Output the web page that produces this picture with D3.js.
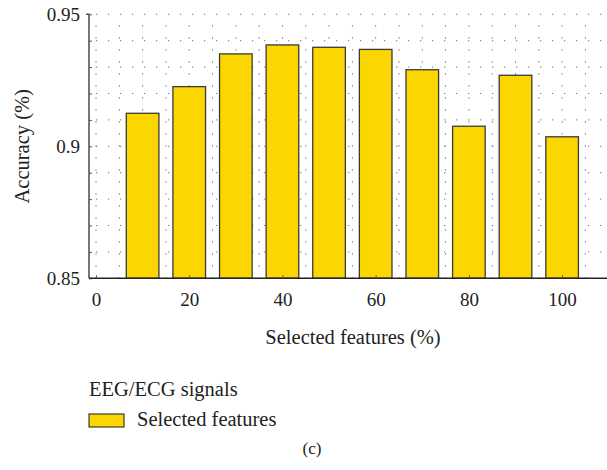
<!DOCTYPE html>
<html>
<head>
<meta charset="utf-8">
<script src="https://cdn.jsdelivr.net/npm/d3@7"></script>
<style>
  html, body { margin: 0; padding: 0; background: #fff; }
  svg { display: block; }
  text { font-family: "Liberation Serif", "DejaVu Serif", serif; fill: #222; }
</style>
</head>
<body>
<svg id="chart" width="607" height="470"></svg>
<script>
// Selected share of features (%) and resulting classification accuracy
const features = [10, 20, 30, 40, 50, 60, 70, 80, 90, 100];
const accuracy = [0.9125, 0.9226, 0.935, 0.9384, 0.9375, 0.9367, 0.929, 0.9076, 0.9269, 0.9036];
const xTickValues = [0, 20, 40, 60, 80, 100];
const yTickLabels = [0.85, 0.9, 0.95];
const seriesName = "Selected features";
const legendTitle = "EEG/ECG signals";

const svg = d3.select("#chart");

const plotL = 89, plotR = 612, plotT = 14.3, plotB = 278.3;
const x = d3.scaleLinear().domain([-1.5, 110.7]).range([plotL, plotR]);
const y = d3.scaleLinear().domain([0.85, 0.95]).range([plotB, plotT]);

svg.append("defs").append("clipPath").attr("id", "plot")
  .append("rect").attr("x", plotL).attr("y", plotT - 2)
  .attr("width", plotR - plotL).attr("height", plotB - plotT + 4);

const grid = svg.append("g").attr("clip-path", "url(#plot)");

// horizontal dotted grid every 0.01
grid.selectAll("line.h")
  .data(d3.range(0.86, 0.9501, 0.01))
  .join("line")
  .attr("class", "h")
  .attr("x1", plotL + 1).attr("x2", plotR)
  .attr("y1", d => y(d)).attr("y2", d => y(d))
  .attr("stroke", "#777").attr("stroke-width", 1)
  .attr("stroke-dasharray", "1.3,10.7")
  .attr("stroke-dashoffset", -6);

// vertical dotted grid every 5 units
grid.selectAll("line.v")
  .data(d3.range(0, 111, 5))
  .join("line")
  .attr("class", "v")
  .attr("x1", d => x(d)).attr("x2", d => x(d))
  .attr("y1", plotT + 5).attr("y2", plotB)
  .attr("stroke", "#666").attr("stroke-width", 1)
  .attr("stroke-dasharray", "1.3,10.7")
  .attr("stroke-dashoffset", -6);

// bars
const barW = x(7) - x(0);
svg.append("g").selectAll("rect")
  .data(features.map((f, i) => ({ f, v: accuracy[i] })))
  .join("rect")
  .attr("x", d => x(d.f) - barW / 2)
  .attr("y", d => y(d.v))
  .attr("width", barW)
  .attr("height", d => y(0.85) - y(d.v))
  .attr("fill", "#FBD600")
  .attr("stroke", "#3a3a3a")
  .attr("stroke-width", 1.3);

// y axis
const yAxis = d3.axisLeft(y)
  .tickValues(d3.range(0.85, 0.9501, 0.01))
  .tickSize(-3)
  .tickPadding(9)
  .tickFormat(d => yTickLabels.some(t => Math.abs(t - d) < 1e-6) ? String(+d.toFixed(2)) : "");
const gy = svg.append("g").attr("transform", `translate(${plotL},0)`).call(yAxis);
gy.select(".domain").attr("d", `M-3,${plotT}H0V${plotB}`).attr("stroke", "#555").attr("stroke-width", 1.6);
gy.selectAll(".tick line").attr("stroke", "#555");
gy.selectAll(".tick text").style("font-size", "19px").attr("fill", "#222")
  .style("font-family", '"Liberation Serif", serif');

// x axis
const xAxis = d3.axisBottom(x)
  .tickValues(xTickValues)
  .tickSize(0)
  .tickPadding(14);
const gx = svg.append("g").attr("transform", `translate(0,${plotB})`).call(xAxis);
gx.select(".domain").attr("d", `M${plotL},0H${plotR}`).attr("stroke", "#222").attr("stroke-width", 1.4);
gx.selectAll(".tick text").style("font-size", "19px").attr("fill", "#222")
  .style("font-family", '"Liberation Serif", serif');
gx.selectAll(".tick").append("line").attr("y1", 0).attr("y2", -3).attr("stroke", "#555");

// axis titles
svg.append("text")
  .attr("transform", `translate(29,${(plotT + plotB) / 2}) rotate(-90)`)
  .attr("text-anchor", "middle")
  .style("font-size", "20.5px")
  .text("Accuracy (%)");

svg.append("text")
  .attr("x", 353).attr("y", 344)
  .attr("text-anchor", "middle")
  .style("font-size", "20.5px")
  .text("Selected features (%)");

// legend
svg.append("text").attr("x", 89).attr("y", 396)
  .style("font-size", "20.5px").text(legendTitle);
svg.append("rect").attr("x", 89).attr("y", 414).attr("width", 35).attr("height", 13)
  .attr("fill", "#FBD600").attr("stroke", "#3a3a3a").attr("stroke-width", 1.2);
svg.append("text").attr("x", 137).attr("y", 426)
  .style("font-size", "20.5px").text(seriesName);

// panel label
svg.append("text").attr("x", 312).attr("y", 454)
  .attr("text-anchor", "middle")
  .style("font-size", "17px")
  .text("(c)");
</script>
</body>
</html>
